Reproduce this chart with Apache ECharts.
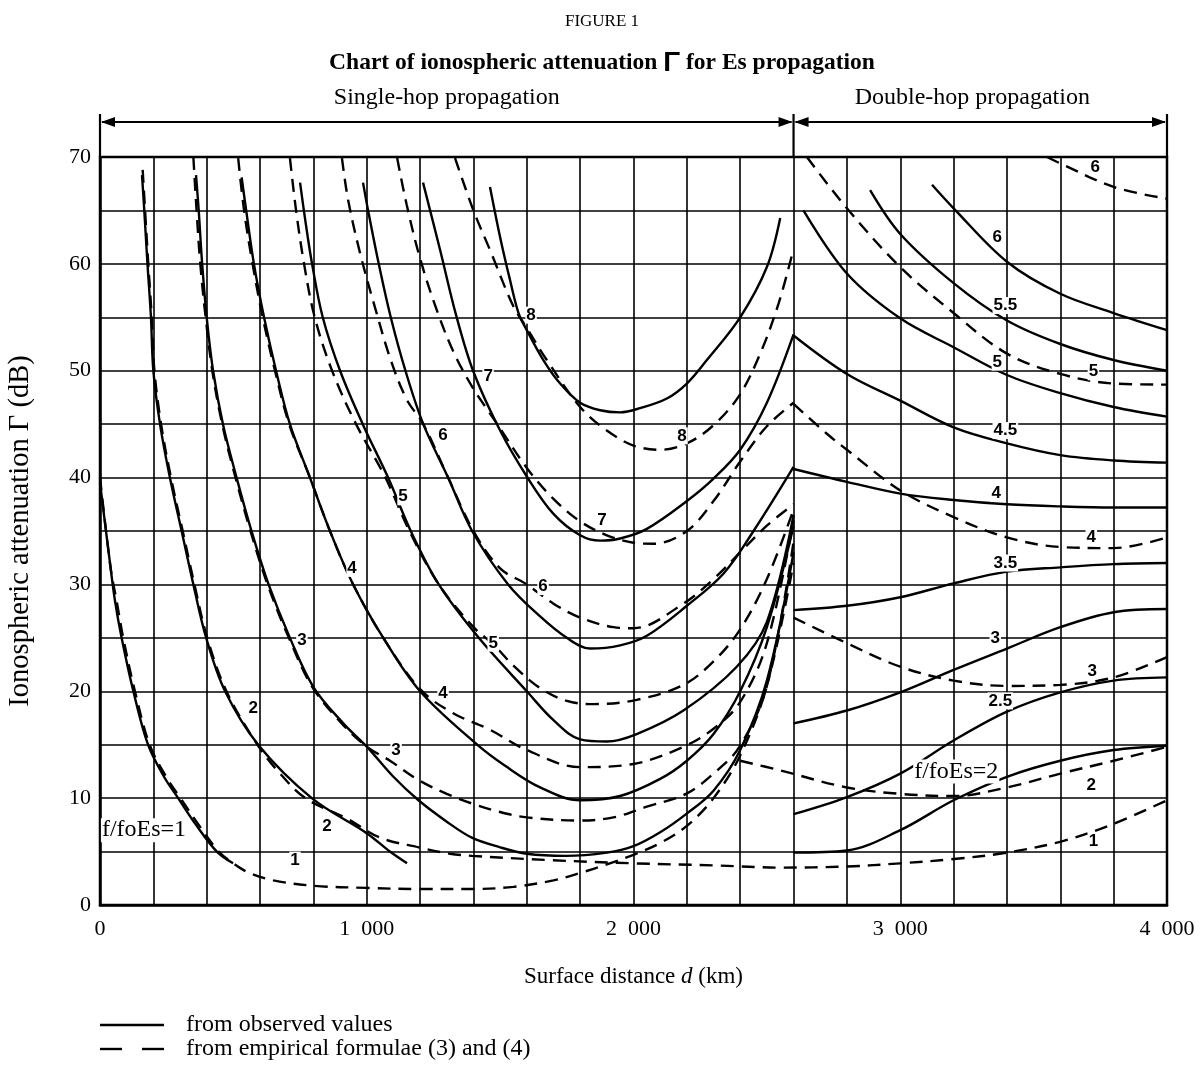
<!DOCTYPE html>
<html>
<head>
<meta charset="utf-8">
<title>Chart of ionospheric attenuation for Es propagation</title>
<script src="https://cdn.jsdelivr.net/npm/echarts@6/dist/echarts.min.js"></script>
<style>
  html, body { margin: 0; padding: 0; background: #fff; }
  #chart { width: 1204px; height: 1071px; }
</style>
</head>
<body>
<div id="chart"></div>
<script>
// ---- Single-hop curves: [surface distance km, attenuation dB] ----
const obs1 = [[0,39.5],[37.5,32],[56,28.5],[81,25],[125,20],[180,15],[240,12],[293,10],[360,7.5],[438,5],[499,3.9]];
const emp1 = [[0,40],[40,31.5],[62,28.5],[87,25],[131,20],[186,15],[248,12],[302,10],[370,7.5],[445,5],[500,3.9],[560,3.0],[650,2.3],[800,1.8],[1000,1.6],[1200,1.5],[1400,1.5],[1550,1.7],[1700,2.3],[1800,3.0],[1900,3.8],[2000,4.7],[2100,5.8],[2200,7.4],[2300,10],[2400,14],[2500,20.5],[2600,32]];
const obs2 = [[157.5,68.3],[166,65],[178,60],[191,55],[200,50],[225,45],[262,40],[306,35],[350,30],[398,25],[469,20],[593,15],[794,10],[1001,6.7],[1087,5.0],[1151,3.9]];
const emp2 = [[160,68.8],[169,65],[181,60],[194,55],[204,50],[229,45],[266,40],[310,35],[354,30],[402,25],[474,20],[590,15],[675,12.3],[770,10],[925,8.1],[1050,6.3],[1194,5.4],[1312,4.8],[1394,4.6],[1687,4.2],[2000,3.9],[2312,3.7],[2550,3.5],[2800,3.6],[3000,3.9],[3200,4.3],[3400,4.9],[3612,6.0],[3800,7.6],[4000,9.8]];
const obs3 = [[360,68.3],[370,65],[383,60],[400,55],[424,50],[461,45],[512,40],[568,35],[632,30],[712,25],[800,20.4],[912,17.0],[1001,14.8],[1100,12.0],[1194,9.8],[1300,7.8],[1394,6.3],[1500,5.4],[1600,4.8],[1745,4.6],[1900,4.9],[2000,5.5],[2100,6.8],[2197,8.5],[2300,10.7],[2400,14.5],[2500,21],[2600,33]];
const emp3 = [[350,70],[362,65],[376,60],[396,55],[421,50],[458,45],[508,40],[564,35],[628,30],[708,25],[796,20.4],[906,17.0],[1001,14.8],[1087,13.5],[1194,11.7],[1300,10.4],[1394,9.5],[1500,8.7],[1600,8.2],[1796,7.9],[1925,8.2],[2050,9.2],[2197,10.4],[2300,12.3],[2397,14.8],[2500,20.5],[2600,34]];
const obs4 = [[531,68.1],[548,65],[577,60],[615,55],[660,50],[712,45],[787,40],[862,35],[949,30],[1062,25],[1200,20],[1414,15],[1520,13],[1650,11],[1800,9.8],[1950,10.2],[2100,11.8],[2200,13.5],[2300,16],[2400,20],[2500,26],[2600,35.5]];
const emp4 = [[518,69.9],[540,65],[572,60],[610,55],[656,50],[709,45],[787,40],[862,35],[949,30],[1062,25],[1200,20.2],[1320,18],[1462,16.4],[1600,14.5],[1800,12.9],[2000,13.2],[2187,14.8],[2300,16.5],[2400,19],[2500,24.5],[2600,36]];
const obs5 = [[750,67.6],[770,64],[795,60],[835,55],[900,50],[985,45],[1080,40],[1165,35],[1270,30],[1420,25],[1600,20],[1700,17.3],[1800,15.5],[1900,15.3],[2012,16.0],[2187,18.2],[2387,22.3],[2500,26.5],[2600,36.5]];
const emp5 = [[712,69.9],[735,65],[765,60],[805,55],[870,50],[960,45],[1070,40],[1160,35],[1270,30],[1400,26],[1474,24.4],[1550,22.4],[1650,20.3],[1750,19.1],[1850,18.8],[2012,19.2],[2187,20.6],[2300,22.8],[2400,25.8],[2500,30.5],[2600,37]];
const obs6 = [[986,67.6],[1005,65],[1045,60],[1090,55],[1145,50],[1212,45],[1305,40],[1395,35],[1530,30],[1650,27],[1750,25],[1837,24.0],[1950,24.3],[2050,25.2],[2200,28.0],[2337,31.0],[2450,35],[2600,41.0]];
const emp6 = [[907,69.9],[930,66],[975,61],[1030,56],[1090,51],[1150,47.3],[1212,45],[1305,40],[1400,35],[1500,31.5],[1600,30.0],[1700,28.2],[1800,26.9],[1925,26.0],[2000,25.9],[2187,28.2],[2300,30.5],[2400,33],[2500,35.5],[2600,37.5]];
const obs7 = [[1211,67.6],[1275,61.3],[1335,55.2],[1400,49.9],[1500,44.4],[1600,40.1],[1700,36.6],[1800,34.6],[1875,34.1],[1950,34.3],[2050,35.2],[2200,37.8],[2300,39.9],[2400,42.6],[2500,47.0],[2600,53.4]];
const emp7 = [[1114,69.9],[1150,65.5],[1200,60.5],[1265,55.5],[1330,51.5],[1400,48.3],[1462,46],[1500,44.6],[1600,40.9],[1700,38.0],[1800,35.9],[1900,34.6],[2000,33.9],[2075,33.8],[2200,35.0],[2300,37.8],[2400,41.5],[2500,44.8],[2600,47.0]];
const obs8 = [[1462,67.2],[1500,62.5],[1537,58.5],[1569,55.4],[1600,53.8],[1662,51.0],[1725,48.8],[1800,47.0],[1875,46.3],[1950,46.1],[2025,46.5],[2125,47.4],[2200,48.8],[2275,51.0],[2400,55.0],[2500,59.7],[2550,64.3]];
const emp8 = [[1331,69.9],[1400,65],[1462,61.3],[1550,56.0],[1600,54.0],[1675,51.0],[1800,46.6],[1900,44.4],[2000,43.0],[2100,42.6],[2200,43.2],[2300,44.9],[2397,47.7],[2475,51.6],[2544,56.3],[2600,61.4]];

// ---- Double-hop curves ----
const dObs2 = [[2600,4.9],[2800,5.1],[3000,7.0],[3200,9.8],[3400,12.0],[3600,13.5],[3800,14.5],[4000,14.9]];
const dObs25 = [[2600,8.5],[2800,10.1],[3000,12.3],[3200,15.4],[3400,18.1],[3600,19.9],[3800,21.0],[4000,21.3]];
const dObs3 = [[2600,17.0],[2800,18.2],[3000,19.9],[3200,22.0],[3400,24.0],[3600,26.0],[3800,27.4],[4000,27.7]];
const dObs35 = [[2600,27.6],[2800,28.0],[3000,28.8],[3200,30.1],[3400,31.2],[3600,31.6],[3800,31.9],[4000,32.0]];
const dObs4 = [[2600,40.8],[2800,39.6],[3000,38.5],[3200,37.9],[3400,37.5],[3600,37.3],[3800,37.2],[4000,37.2]];
const dObs45 = [[2600,53.3],[2800,49.7],[3000,47.2],[3200,44.7],[3400,43.2],[3600,42.1],[3800,41.6],[4000,41.4]];
const dObs5 = [[2637,65.0],[2800,59.1],[3000,54.9],[3200,52.2],[3400,49.6],[3600,47.9],[3800,46.6],[4000,45.7]];
const dObs55 = [[2887,66.9],[3000,62.8],[3200,58.2],[3400,54.7],[3600,52.5],[3800,51.0],[4000,50.0]];
const dObs6 = [[3119,67.4],[3200,65.2],[3400,60.2],[3600,57.2],[3800,55.4],[4000,53.8]];
const dEmp2 = [[2400,13.5],[2550,12.6],[2800,11.0],[3000,10.4],[3200,10.2],[3400,11.0],[3600,12.3],[3800,13.5],[4000,14.8]];
const dEmp3 = [[2600,26.9],[2800,24.5],[3000,22.3],[3200,21.0],[3400,20.5],[3600,20.6],[3800,21.3],[4000,23.2]];
const dEmp4 = [[2600,46.9],[2725,44.1],[2800,42.6],[3000,38.8],[3200,36.3],[3400,34.4],[3600,33.5],[3800,33.4],[4000,34.4]];
const dEmp5 = [[2650,70.0],[2800,65.2],[3000,59.7],[3200,55.4],[3400,51.6],[3600,49.7],[3800,48.8],[4000,48.7]];
const dEmp6 = [[3550,70.0],[3600,69.4],[3800,67.2],[4000,66.1]];

// ---- Curve labels: [km, dB, text] ----
const curveLabels = [
  [731,4.2,'1'],[574,18.4,'2'],[851,7.4,'2'],[757,24.8,'3'],[1110,14.5,'3'],
  [945,31.5,'4'],[1286,19.8,'4'],[1136,38.2,'5'],[1474,24.5,'5'],
  [1286,44.0,'6'],[1661,29.8,'6'],[1455,49.5,'7'],[1882,36.0,'7'],
  [1616,55.2,'8'],[2182,43.9,'8'],
  [3731,69.0,'6'],[3364,62.5,'6'],[3394,56.1,'5.5'],[3364,50.8,'5'],[3724,49.9,'5'],
  [3394,44.4,'4.5'],[3360,38.5,'4'],[3716,34.4,'4'],[3394,32.0,'3.5'],
  [3356,25.0,'3'],[3720,21.9,'3'],[3375,19.1,'2.5'],[3716,11.2,'2'],[3724,6.0,'1']
];
const ratioLabels = [[165,7.0,'f/foEs=1'],[3210,12.5,'f/foEs=2']];
const xTicks = [0, 1000, 2000, 3000, 4000];
const yTicks = [0, 10, 20, 30, 40, 50, 60, 70];
const hopBounds = [0, 2600, 4000];

const SERIF = '"Liberation Serif","Times New Roman",serif';
const SANS = '"Liberation Sans",Arial,sans-serif';

function curve(name, data, dashed) {
  return {
    name: name, type: 'line', data: data,
    symbol: 'none', showSymbol: false, silent: true,
    smooth: 0.35, z: 3,
    lineStyle: { color: '#000', width: 2.4, type: dashed ? [13, 8] : 'solid', cap: 'butt' }
  };
}

function labelSeries(data, font) {
  return {
    type: 'scatter', data: data, symbolSize: 0, silent: true, z: 6,
    itemStyle: { opacity: 1 },
    label: Object.assign({
      show: true, position: 'inside', formatter: p => p.value[2], color: '#000', opacity: 1,
      backgroundColor: '#fff', padding: [0, 1]
    }, font)
  };
}

const series = [
  curve('obs1', obs1), curve('emp1', emp1, true),
  curve('obs2', obs2), curve('emp2', emp2, true),
  curve('obs3', obs3), curve('emp3', emp3, true),
  curve('obs4', obs4), curve('emp4', emp4, true),
  curve('obs5', obs5), curve('emp5', emp5, true),
  curve('obs6', obs6), curve('emp6', emp6, true),
  curve('obs7', obs7), curve('emp7', emp7, true),
  curve('obs8', obs8), curve('emp8', emp8, true),
  curve('dObs2', dObs2), curve('dObs25', dObs25), curve('dObs3', dObs3),
  curve('dObs35', dObs35), curve('dObs4', dObs4), curve('dObs45', dObs45),
  curve('dObs5', dObs5), curve('dObs55', dObs55), curve('dObs6', dObs6),
  curve('dEmp2', dEmp2, true), curve('dEmp3', dEmp3, true), curve('dEmp4', dEmp4, true),
  curve('dEmp5', dEmp5, true), curve('dEmp6', dEmp6, true),
  labelSeries(curveLabels, { fontFamily: SANS, fontWeight: 'bold', fontSize: 17 }),
  labelSeries(ratioLabels, { fontFamily: SERIF, fontSize: 24 })
];

const chart = echarts.init(document.getElementById('chart'));
chart.setOption({
  backgroundColor: '#fff',
  animation: false,
  title: [
    { text: 'FIGURE 1', left: 'center', top: 8,
      textStyle: { fontFamily: SERIF, fontWeight: 'normal', fontSize: 17, color: '#000' } },
    { text: '{a|Chart of ionospheric attenuation }{g|Γ}{a| for Es propagation}', left: 'center', top: 44,
      textStyle: { rich: {
        a: { fontFamily: SERIF, fontWeight: 'bold', fontSize: 23.5, color: '#000' },
        g: { fontFamily: SANS, fontWeight: 'bold', fontSize: 28, color: '#000', verticalAlign: 'bottom' } } } }
  ],
  grid: { left: 100, right: 37, top: 157, bottom: 166, containLabel: false, outerBoundsMode: 'none',
          show: true, borderColor: '#000', borderWidth: 2.5 },
  xAxis: {
    type: 'value', min: 0, max: 4000, interval: 200,
    name: '{t|Surface distance }{i|d}{t| (km)}', nameLocation: 'middle', nameGap: 60,
    nameTextStyle: { rich: {
      t: { fontFamily: SERIF, fontSize: 23, color: '#000' },
      i: { fontFamily: SERIF, fontSize: 23, fontStyle: 'italic', color: '#000' } } },
    axisLine: { show: true, lineStyle: { color: '#000', width: 2.5 } },
    axisTick: { show: false },
    axisLabel: {
      fontFamily: SERIF, fontSize: 22, color: '#000', margin: 13,
      formatter: v => xTicks.indexOf(v) < 0 ? '' : (v === 0 ? '0' : (v / 1000) + '\u2007000')
    },
    splitLine: { show: true, lineStyle: { color: '#000', width: 1.6 } }
  },
  yAxis: {
    type: 'value', min: 0, max: 70, interval: 5,
    name: 'Ionospheric attenuation Γ (dB)', nameLocation: 'middle', nameGap: 65,
    nameTextStyle: { fontFamily: SERIF, fontSize: 28.5, color: '#000' },
    axisLine: { show: true, lineStyle: { color: '#000', width: 2.5 } },
    axisTick: { show: false },
    axisLabel: {
      fontFamily: SERIF, fontSize: 22, color: '#000', margin: 9,
      formatter: v => yTicks.indexOf(v) < 0 ? '' : String(v)
    },
    splitLine: { show: true, lineStyle: { color: '#000', width: 1.6 } }
  },
  series: series
});

// Propagation-mode dimension lines above the plot area
const toX = km => chart.convertToPixel({ xAxisIndex: 0 }, km);
const yTop = chart.convertToPixel({ yAxisIndex: 0 }, 70);
const dimY = yTop - 35;
const extTop = yTop - 43;
const g = [];
hopBounds.forEach(km => {
  const x = toX(km);
  g.push({ type: 'line', shape: { x1: x, y1: extTop, x2: x, y2: yTop }, style: { stroke: '#000', lineWidth: 2.2 }, z: 10 });
});
function arrow(x, dir) {
  // dir = -1 points left, +1 points right; the tip sits on x
  return { type: 'polygon', shape: { points: [[x, dimY], [x - dir * 14, dimY - 5], [x - dir * 14, dimY + 5]] },
           style: { fill: '#000' }, z: 10 };
}
for (let i = 0; i < hopBounds.length - 1; i++) {
  const x1 = toX(hopBounds[i]), x2 = toX(hopBounds[i + 1]);
  g.push({ type: 'line', shape: { x1: x1 + 2, y1: dimY, x2: x2 - 2, y2: dimY }, style: { stroke: '#000', lineWidth: 1.8 }, z: 10 });
  g.push(arrow(x1 + 1, -1), arrow(x2 - 1, 1));
}
const hopNames = ['Single-hop propagation', 'Double-hop propagation'];
const hopCentres = [toX(1300), toX(3270)];
hopNames.forEach((t, i) => {
  g.push({ type: 'text', x: hopCentres[i], y: dimY - 24,
    style: { text: t, font: '24px ' + SERIF, fill: '#000', align: 'center', verticalAlign: 'middle' }, z: 10 });
});
// Line-style key
const keyX = toX(0), keyY1 = 1025, keyY2 = 1049;
g.push({ type: 'line', shape: { x1: keyX, y1: keyY1, x2: keyX + 64, y2: keyY1 }, style: { stroke: '#000', lineWidth: 2.4 } });
g.push({ type: 'line', shape: { x1: keyX, y1: keyY2, x2: keyX + 22, y2: keyY2 }, style: { stroke: '#000', lineWidth: 2.4 } });
g.push({ type: 'line', shape: { x1: keyX + 42, y1: keyY2, x2: keyX + 64, y2: keyY2 }, style: { stroke: '#000', lineWidth: 2.4 } });
g.push({ type: 'text', x: keyX + 86, y: keyY1, style: { text: 'from observed values', font: '24px ' + SERIF, fill: '#000', verticalAlign: 'middle' } });
g.push({ type: 'text', x: keyX + 86, y: keyY2, style: { text: 'from empirical formulae (3) and (4)', font: '24px ' + SERIF, fill: '#000', verticalAlign: 'middle' } });
chart.setOption({ graphic: g });
</script>
</body>
</html>
